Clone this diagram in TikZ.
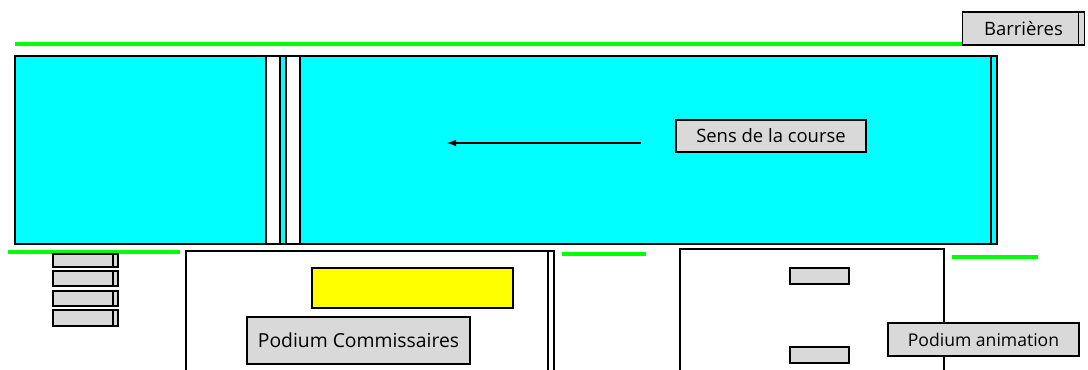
\documentclass[tikz,border=0pt]{standalone}
\usepackage{fontspec}
\setmainfont{Open Sans}
\usetikzlibrary{positioning}

\definecolor{piste}{RGB}{0,255,255}
\definecolor{vert}{RGB}{0,255,0}
\definecolor{gris}{RGB}{217,217,217}
\definecolor{jaune}{RGB}{255,255,0}

\begin{document}
\begin{tikzpicture}[x=0.02cm,y=-0.02cm]
  \tikzset{ boite/.style={draw,fill=gris,line width=1.1pt,inner sep=0pt,
      font=\fontsize{10.5}{12}\selectfont},
    barriere/.style={vert,line width=2.8pt},
    trait/.style={line width=1.1pt},
  }
  \useasboundingbox (0,0) rectangle (1088,369);

  % les barrieres
  \draw[barriere] (15,44) -- (1030,44);
  \draw[barriere] (8,252) -- (180,252);
  \draw[barriere] (562,254) -- (646,254);
  \draw[barriere] (952,257) -- (1038,257);

  % la piste
  \draw[trait,fill=piste] (15,56) rectangle (997,244);
  \draw[trait] (991,56) -- (991,244);
  \draw[trait,fill=white] (266,56) rectangle (280,244);
  \draw[trait,fill=white] (286,56) rectangle (300,244);

  % sens de la course
  \coordinate (dep) at (641,143);
  \coordinate (arr) at (447,143);
  \draw[-latex,line width=0.8pt] (dep) -- (arr);
  \node[boite,minimum width=3.8cm,minimum height=0.64cm] (sens) at (771,136) {Sens de la course};

  % barrieres en attente
  \foreach \y/\h in {254/267,271/286,291/306,310/326}{
    \draw[trait,fill=gris] (53,\y) rectangle (118,\h);
    \draw[trait] (113,\y) -- (113,\h);
  }

  % podium commissaires
  \draw[trait] (186,372) -- (186,251) -- (554,251) -- (554,372);
  \draw[trait] (548,251) -- (548,372);
  \draw[trait,fill=jaune] (312,268) rectangle (513,308);
  \node[boite,minimum width=4.46cm,minimum height=0.94cm,
    font=\fontsize{11}{13}\selectfont] (comm) at (358.5,340.5) {Podium Commissaires};

  % podium animation
  \draw[trait] (680,372) -- (680,249) -- (944,249) -- (944,372);
  \draw[trait,fill=gris] (790,268) rectangle (849,284);
  \draw[trait,fill=gris] (790,347) rectangle (849,363);
  \node[boite,minimum width=3.82cm,minimum height=0.66cm,
    font=\fontsize{10}{12}\selectfont] (anim) at (983.5,339.5) {Podium animation};

  % legende
  \node[boite,minimum width=2.44cm,minimum height=0.66cm] (legende) at (1023.5,28.5) {Barrières};
  \draw[trait] ([xshift=-0.14cm]legende.north east) -- ([xshift=-0.14cm]legende.south east);
\end{tikzpicture}
\end{document}
